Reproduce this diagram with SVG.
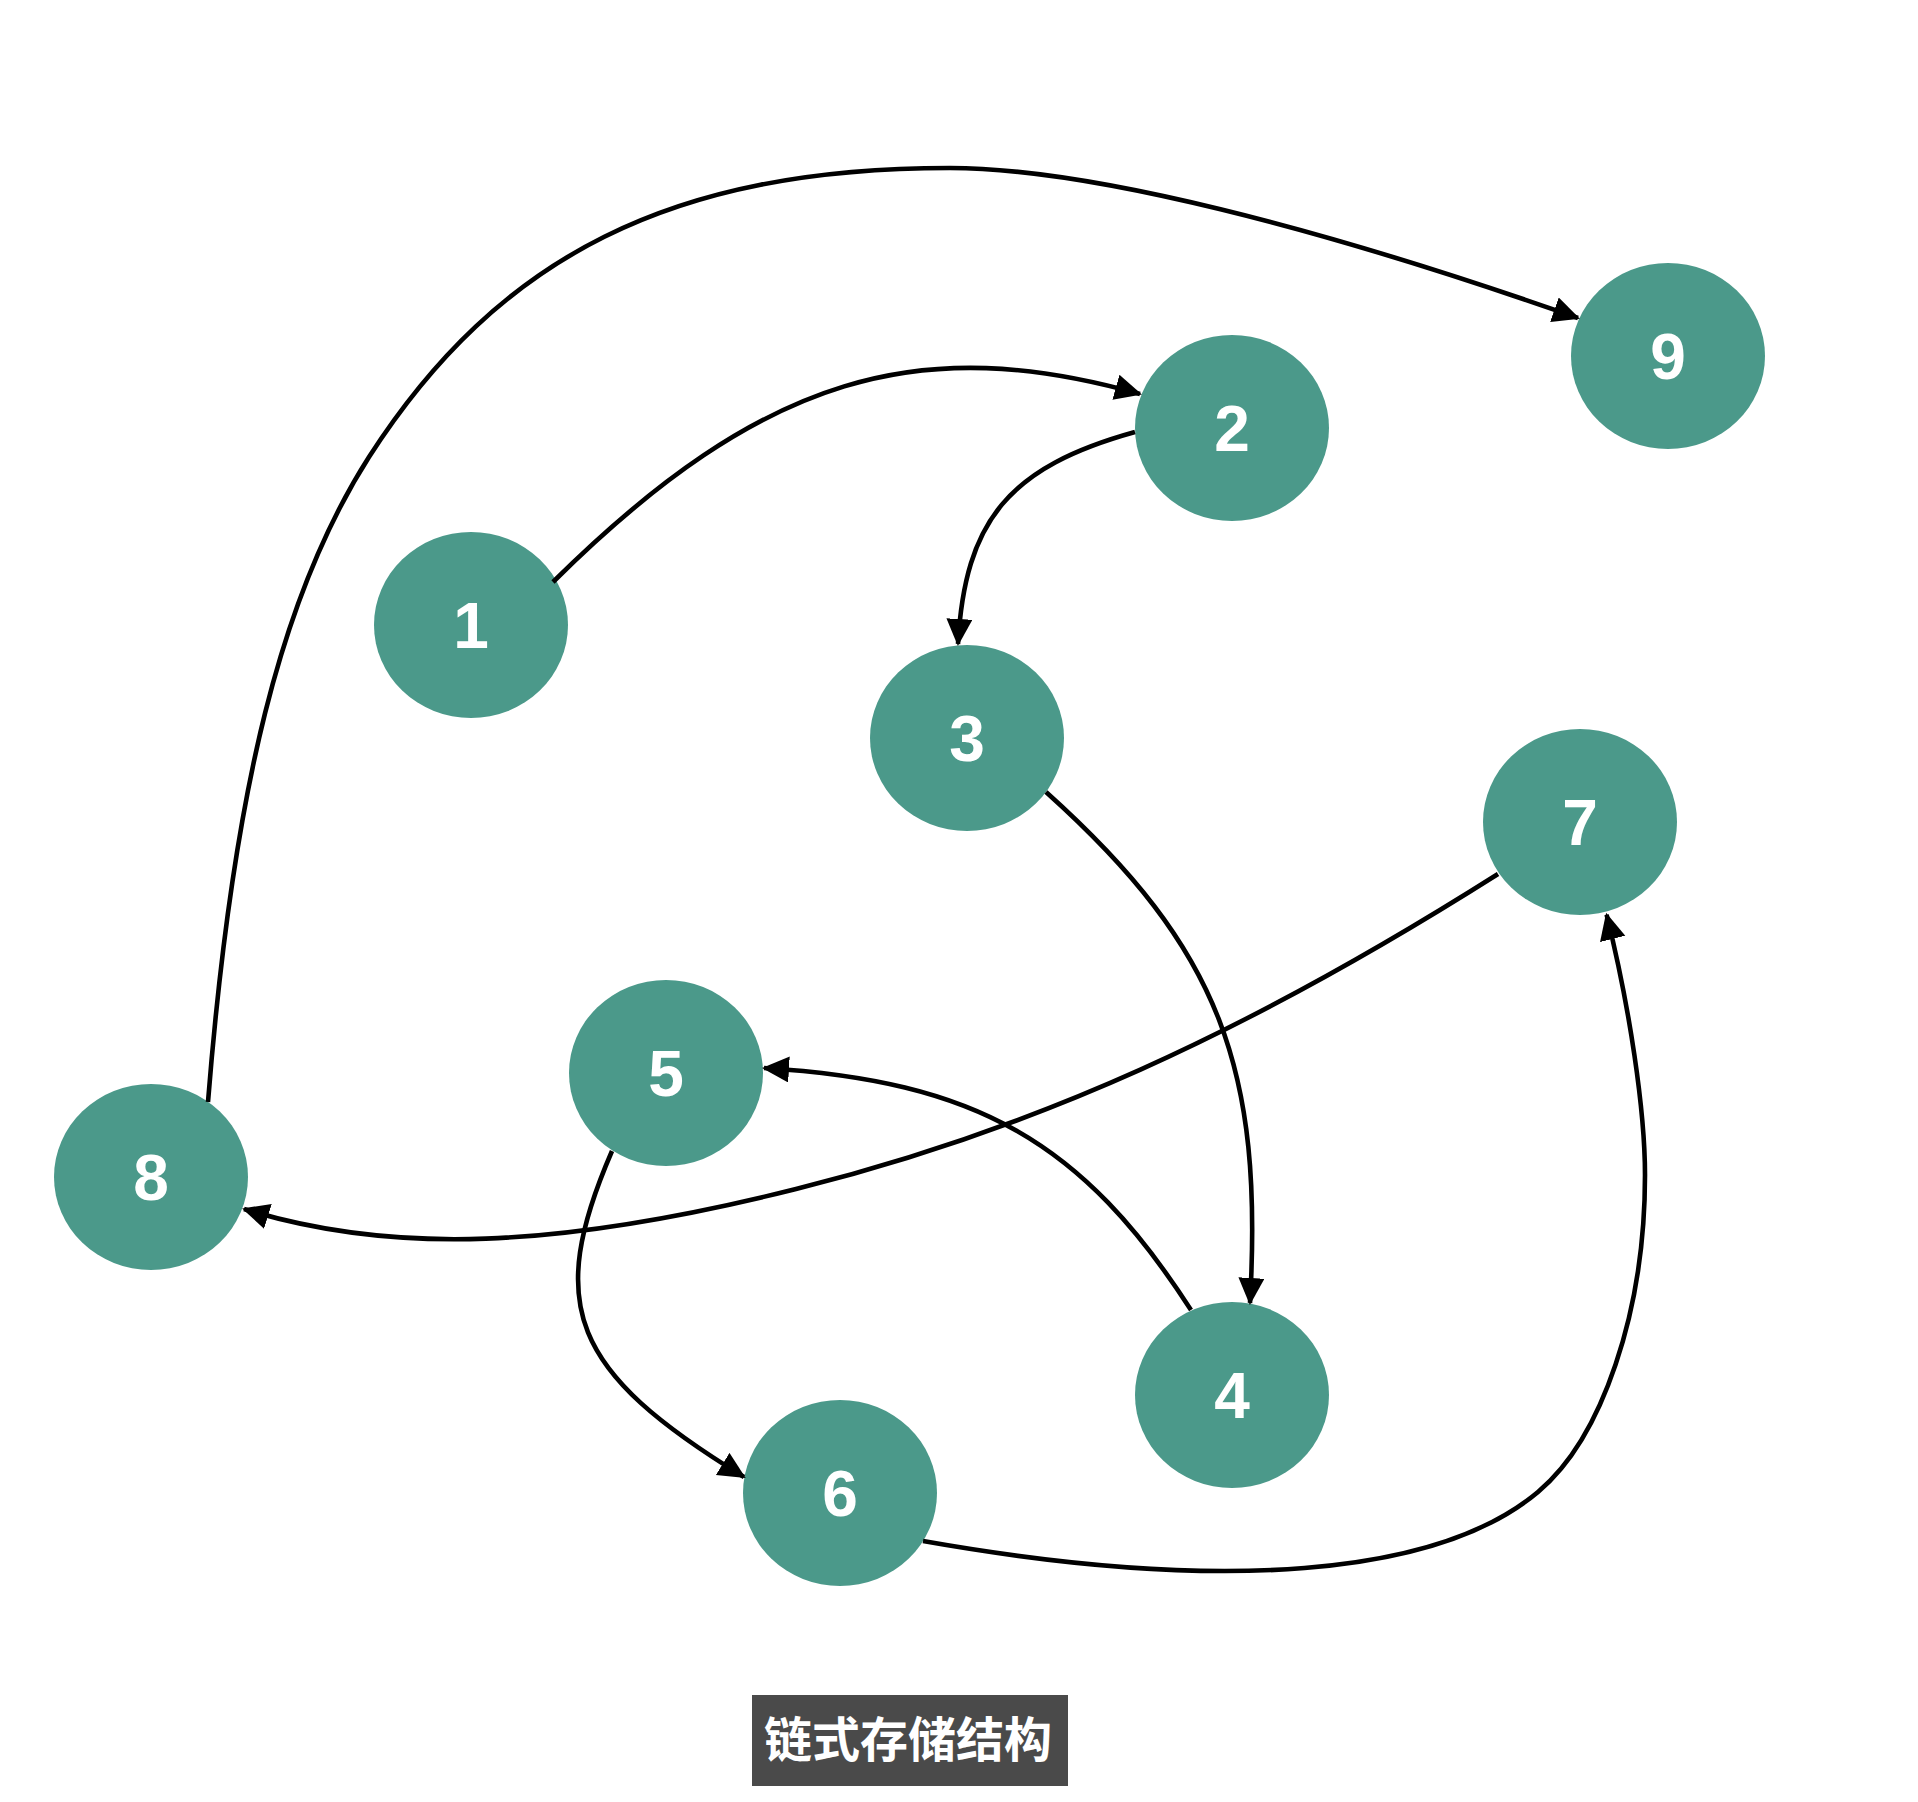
<svg xmlns="http://www.w3.org/2000/svg" width="1918" height="1802" viewBox="0 0 1918 1802">
<style>
.node ellipse{fill:#4b998a;}
.node text{fill:#ffffff;font-family:"Liberation Sans",Arial,sans-serif;font-weight:bold;font-size:64px;text-anchor:middle;}
.edge{fill:none;stroke:#000;stroke-width:4.6;marker-end:url(#arr);}
.caption text{fill:#ffffff;font-family:"Noto Sans CJK SC","Noto Sans",sans-serif;font-weight:bold;font-size:48px;text-anchor:middle;}
</style>
<defs>
<marker id="arr" markerUnits="userSpaceOnUse" markerWidth="30" markerHeight="28" refX="25" refY="13" orient="auto">
<path d="M0,0 L27,13 L0,26 z" fill="#000"/>
</marker>
</defs>
<rect width="1918" height="1802" fill="#ffffff"/>
<g id="node-1" class="node"><ellipse cx="471" cy="625" rx="97" ry="93"/><text x="471" y="648">1</text></g>
<g id="node-2" class="node"><ellipse cx="1232" cy="428" rx="97" ry="93"/><text x="1232" y="451">2</text></g>
<g id="node-9" class="node"><ellipse cx="1668" cy="356" rx="97" ry="93"/><text x="1668" y="379">9</text></g>
<g id="node-3" class="node"><ellipse cx="967" cy="738" rx="97" ry="93"/><text x="967" y="761">3</text></g>
<g id="node-7" class="node"><ellipse cx="1580" cy="822" rx="97" ry="93"/><text x="1580" y="845">7</text></g>
<g id="node-5" class="node"><ellipse cx="666" cy="1073" rx="97" ry="93"/><text x="666" y="1096">5</text></g>
<g id="node-8" class="node"><ellipse cx="151" cy="1177" rx="97" ry="93"/><text x="151" y="1200">8</text></g>
<g id="node-4" class="node"><ellipse cx="1232" cy="1395" rx="97" ry="93"/><text x="1232" y="1418">4</text></g>
<g id="node-6" class="node"><ellipse cx="840" cy="1493" rx="97" ry="93"/><text x="840" y="1516">6</text></g>
<g id="connectors">
<path id="e8-9" class="edge" d="M208,1102 C233,787 282,593 369,457 C499,255 673,168 950,168 C1090,168 1322,228 1578,318"/>
<path id="e1-2" class="edge" d="M553,582 C765,372 922,333 1140,394"/>
<path id="e2-3" class="edge" d="M1135,432 C1009,467 965,520 958,644"/>
<path id="e3-4" class="edge" d="M1046,792 C1222,950 1263,1070 1250,1303"/>
<path id="e7-8" class="edge" d="M1498,874 C1243.5,1035 1033,1129.6 796,1189 C557.3,1248.8 391.7,1254.8 244,1209"/>
<path id="e4-5" class="edge" d="M1191,1310 C1082,1141 976,1081 764,1068"/>
<path id="e5-6" class="edge" d="M612,1151 C545,1306 571,1371 744,1477"/>
<path id="e6-7" class="edge" d="M923,1541 C1221.5,1593.7 1436.8,1576.6 1538,1492 C1602.2,1438.3 1645,1311.6 1645,1175 C1645,1110.8 1629.6,1006.7 1606.6,914.7"/>
</g>
<g id="caption" class="caption">
<rect x="752" y="1695" width="316" height="91" fill="#4a4a4a"/>
<text x="908" y="1757">链式存储结构</text>
</g>
</svg>
